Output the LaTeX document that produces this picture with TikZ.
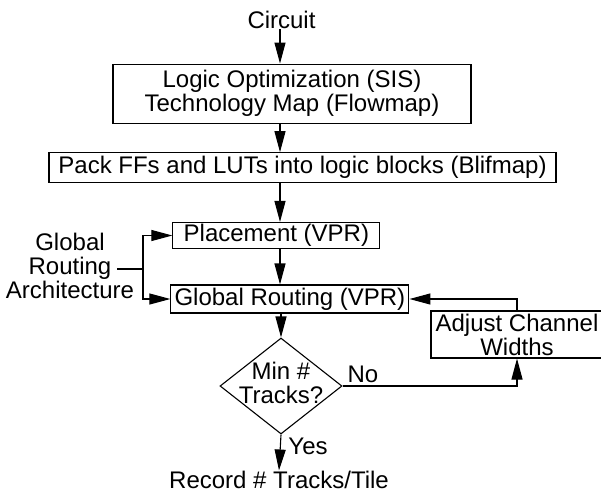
\documentclass[tikz,border=0pt]{standalone}
\usepackage{fontspec}
\setmainfont{Liberation Sans}
\usetikzlibrary{arrows.meta,shapes.geometric}
\begin{document}
\begin{tikzpicture}[x=1pt,y=-1pt,
  every node/.style={font=\fontsize{24}{24}\selectfont, inner sep=0pt, align=center},
  box/.style={draw, line width=1.1pt, rectangle},
  arr/.style={line width=1.1pt, -{Triangle[length=21pt,width=11pt]}},
  ln/.style={line width=1.1pt}]
\useasboundingbox (0,0) rectangle (601,493);
\node (circuit) at (281.5,20) {Circuit};
\coordinate (spine) at (280,0);
\node[box, minimum width=358pt, minimum height=59pt] (b1) at (292,93.6) {Logic Optimization (SIS)\\Technology Map (Flowmap)};
\node[box, minimum width=507pt, minimum height=30pt] (b2) at (302.5,167.7) {Pack FFs and LUTs into logic blocks (Blifmap)};
\node[box, minimum width=207pt, minimum height=26pt] (place) at (276.4,235.5) {Placement (VPR)};
\node[box, minimum width=238pt, minimum height=28pt] (groute) at (289.9,299) {Global Routing (VPR)};
\node[draw, diamond, line width=1.1pt, minimum width=122pt, minimum height=96pt, inner sep=0pt] (dia) at (281,386) {};
\node (diatext) at (281,383) {Min \#\\Tracks?};
\node[box, minimum width=172pt, minimum height=47pt] (adj) at (517,334.5) {Adjust Channel\\Widths};
\node (gra) at (70,266) {Global\\Routing\\Architecture};
\node (record) at (279,479.5) {Record \# Tracks/Tile};
\node (yes) at (308,446) {Yes};
\node (no) at (363,374) {No};
\draw[arr] (circuit.south -| spine) -- (b1.north -| spine);
\draw[arr] (b1.south -| spine) -- (b2.north -| spine);
\draw[arr] (b2.south -| spine) -- (place.north -| spine);
\draw[arr] (place.south -| spine) -- (groute.north -| spine);
\draw[arr] (groute.south -| dia.north) -- (dia.north);
\draw[arr] (dia.south) -- (record.north);
\draw[arr] (dia.east) -| (adj.south);
\draw[arr] (adj.north) |- (groute.east);
\coordinate (jl) at (117,269);
\coordinate (jm) at (143,269);
\draw[ln] (jl) -- (jm);
\draw[arr] (jm) |- (place.west);
\draw[arr] (jm) |- (groute.west);
\end{tikzpicture}
\end{document}
